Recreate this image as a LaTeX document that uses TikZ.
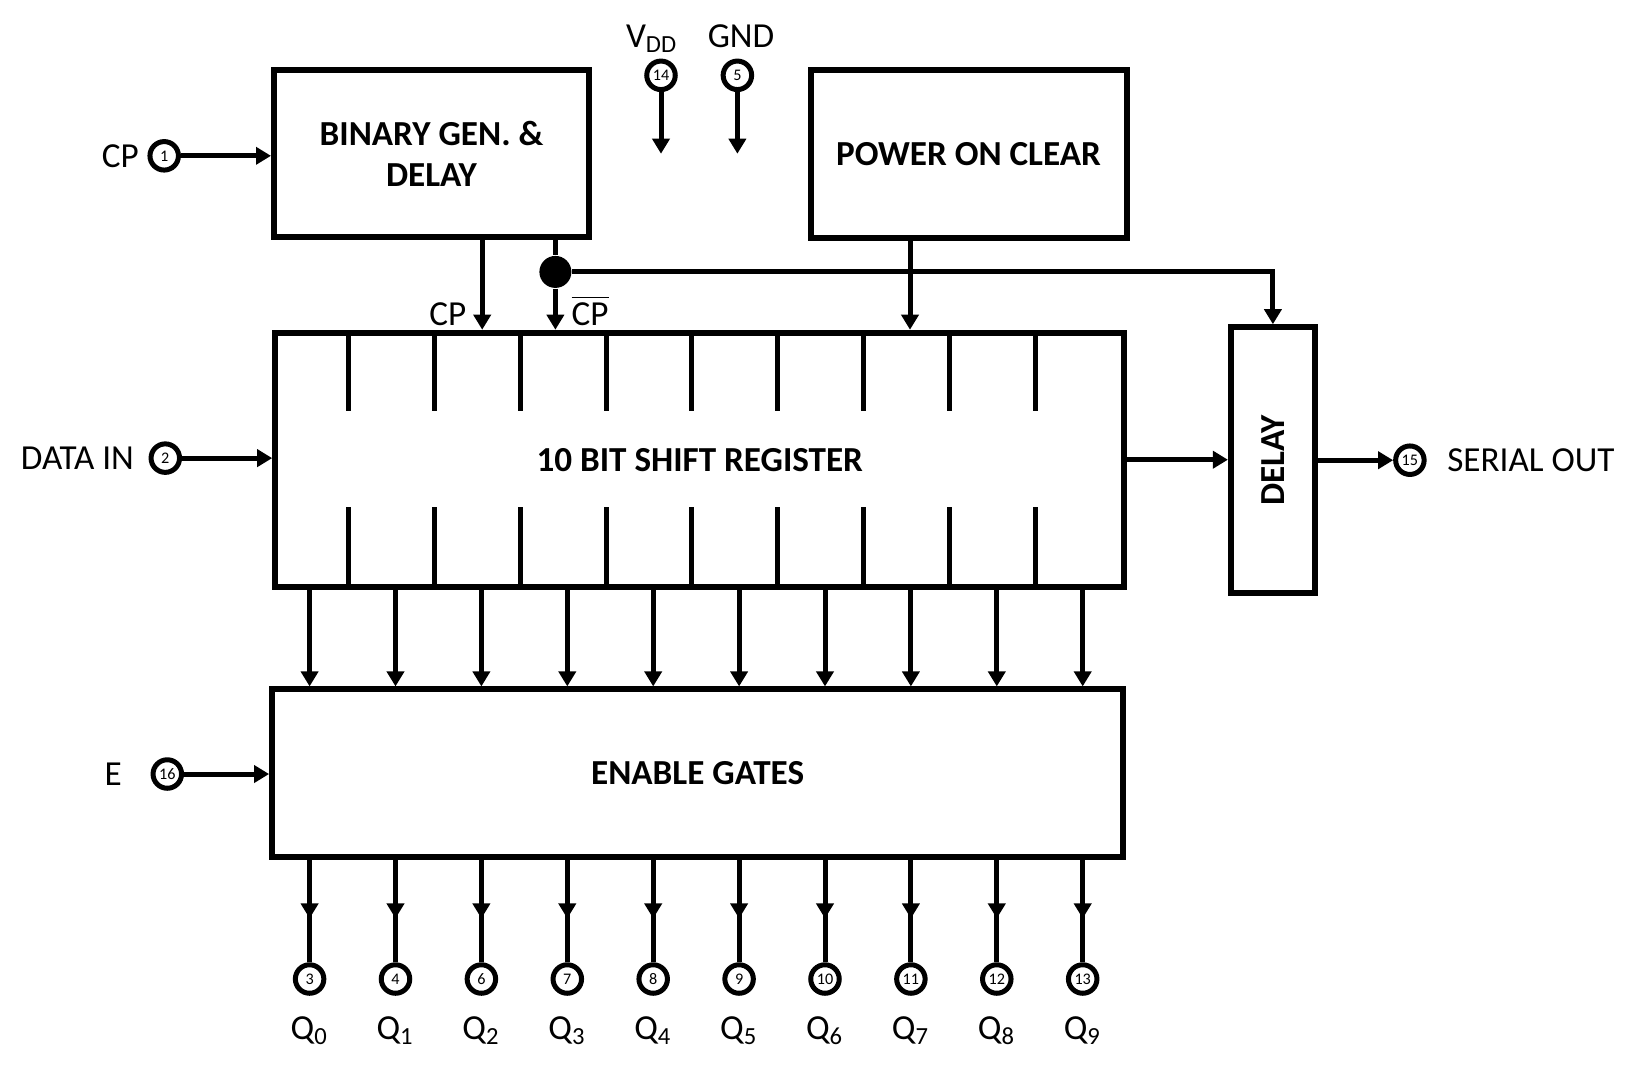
\documentclass[tikz,border=0pt]{standalone}
\usepackage{fontspec}
\setmainfont{Carlito}
\usetikzlibrary{positioning,arrows.meta,decorations.markings}

\begin{document}
\begin{tikzpicture}[x=0.1mm, y=-0.1mm, font=\fontsize{10}{11.7}\selectfont]

% Styles
\tikzstyle{block} = [rectangle, draw=black, line width=0.6mm, align=center, font=\fontsize{10}{11.7}\selectfont\bfseries]
\tikzstyle{pincirc} = [circle, draw=black, line width=0.5mm, minimum size=2.85mm, inner sep=0pt, font=\fontsize{4.6}{5}\selectfont]
\tikzstyle{lbl} = [inner sep=0pt]
\tikzstyle{jdot} = [circle, fill=black, inner sep=0pt, minimum size=3.2mm]
\tikzstyle{wire} = [line width=0.5mm]
\tikzstyle{arrow} = [wire, -{Triangle[width=1.7mm,length=1.5mm]}]
\tikzstyle{midarrow} = [wire, postaction={decorate}, decoration={markings, mark=at position 0.57 with {\arrow{Triangle[width=1.7mm,length=1.5mm]}}}]

\useasboundingbox (0,0) rectangle (1640,1080);

% Blocks
\node[block, minimum width=31.5mm, minimum height=16.7mm] (bg) at (431.5,153.7) {BINARY GEN. \&\\DELAY};
\node[block, minimum width=31.6mm, minimum height=16.8mm] (poc) at (968.5,154.3) {POWER ON CLEAR};
\node[block, minimum width=84.9mm, minimum height=25.4mm] (sr) at (699.7,459.7) {10 BIT SHIFT REGISTER};
\node[block, minimum width=85.1mm, minimum height=16.8mm] (eg) at (697.6,773.4) {ENABLE GATES};
\node[block, minimum width=8.4mm, minimum height=26.6mm] (dl) at (1272.9,460.2) {\rotatebox{90}{DELAY}};

% Pins
\node[pincirc] (p1) at (164.2,155.8) {1};
\node[pincirc] (p2) at (165.3,458.1) {2};
\node[pincirc] (p16) at (167.3,774) {16};
\node[pincirc] (p14) at (661,75.3) {14};
\node[pincirc] (p5) at (737.4,75.3) {5};
\node[pincirc] (p15) at (1409.9,460.2) {15};

% Pin labels
\node[lbl, left=0.8mm of p1] (lcp) {CP};
\node[lbl, left=1.4mm of p2] (ldata) {DATA IN};
\node[lbl, left=2.8mm of p16] (le) {E};
\node[lbl, right=2mm of p15] (lser) {SERIAL OUT};
\node[lbl, anchor=base] (lvdd) at (652,47) {V\textsubscript{DD}};
\node[lbl, anchor=base] (lgnd) at (741,47) {GND};

% Supply
\coordinate (vddend) at (661,153.7);
\coordinate (gndend) at (737.4,153.7);
\draw[arrow] (p14) -- (vddend);
\draw[arrow] (p5) -- (gndend);

% Inputs
\draw[arrow] (p1) -- (p1 -| bg.west);
\draw[arrow] (p2) -- (p2 -| sr.west);
\draw[arrow] (p16) -- (p16 -| eg.west);

% Clock lines
\coordinate (cpt) at (482.2,0);
\node[jdot] (jn) at (555.4,271.9) {};
\draw[arrow] (bg.south -| cpt) -- (sr.north -| cpt);
\draw[wire] (bg.south -| jn) -- (jn);
\draw[arrow] (jn) -- (jn |- sr.north);
\draw[arrow] (jn) -| (dl.north);
\node[lbl, anchor=base east] (lclk) at (467,325) {CP};
\node[lbl, anchor=base west] (lclkn) at (571,325) {$\overline{\mbox{CP}}$};

% Power on clear
\coordinate (pct) at (910,0);
\draw[arrow] (poc.south -| pct) -- (sr.north -| pct);

% Serial out
\draw[arrow] (sr.east) -- (sr.east -| dl.west);
\draw[arrow] (dl.east |- p15) -- (p15);

% Register cells
\foreach \j in {0,...,8} {
  \pgfmathsetmacro\tx{348.3+85.9*\j}
  \draw[wire] (\tx,332.6) -- ++(0,78.4);
  \draw[wire] (\tx,586.8) -- ++(0,-79.5);
}

% Outputs
\foreach \i/\n in {0/3,1/4,2/6,3/7,4/8,5/9,6/10,7/11,8/12,9/13} {
  \pgfmathsetmacro\ox{309.6+85.9*\i}
  \node[pincirc] (q\i) at (\ox,979) {\n};
  \node[lbl, below=2mm of q\i] (lq\i) {Q\textsubscript{\i}};
  \draw[arrow] (sr.south -| q\i) -- (eg.north -| q\i);
  \draw[midarrow] (eg.south -| q\i) -- (q\i);
}

\end{tikzpicture}
\end{document}
